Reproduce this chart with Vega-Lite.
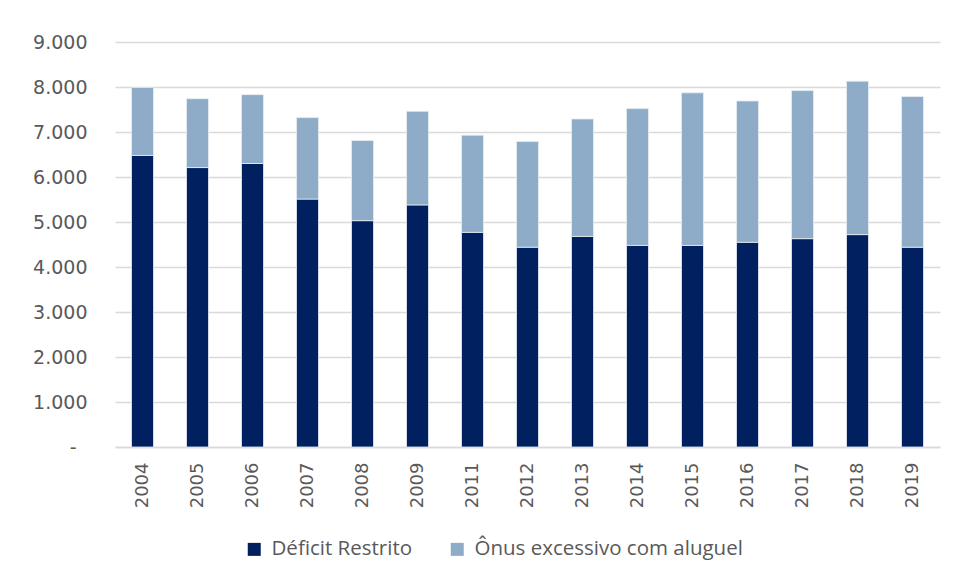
{
  "$schema": "https://vega.github.io/schema/vega-lite/v6.json",
  "width": 825,
  "height": 405,
  "autosize": {"type": "none"},
  "padding": {"left": 115, "top": 42, "right": 16, "bottom": 136},
  "background": "white",
  "data": {
    "values": [
      {"ano": "2004", "serie": "Déficit Restrito", "valor": 6480},
      {"ano": "2004", "serie": "Ônus excessivo com aluguel", "valor": 1510},
      {"ano": "2005", "serie": "Déficit Restrito", "valor": 6210},
      {"ano": "2005", "serie": "Ônus excessivo com aluguel", "valor": 1530},
      {"ano": "2006", "serie": "Déficit Restrito", "valor": 6300},
      {"ano": "2006", "serie": "Ônus excessivo com aluguel", "valor": 1530},
      {"ano": "2007", "serie": "Déficit Restrito", "valor": 5510},
      {"ano": "2007", "serie": "Ônus excessivo com aluguel", "valor": 1810},
      {"ano": "2008", "serie": "Déficit Restrito", "valor": 5030},
      {"ano": "2008", "serie": "Ônus excessivo com aluguel", "valor": 1780},
      {"ano": "2009", "serie": "Déficit Restrito", "valor": 5380},
      {"ano": "2009", "serie": "Ônus excessivo com aluguel", "valor": 2080},
      {"ano": "2011", "serie": "Déficit Restrito", "valor": 4770},
      {"ano": "2011", "serie": "Ônus excessivo com aluguel", "valor": 2160},
      {"ano": "2012", "serie": "Déficit Restrito", "valor": 4440},
      {"ano": "2012", "serie": "Ônus excessivo com aluguel", "valor": 2350},
      {"ano": "2013", "serie": "Déficit Restrito", "valor": 4680},
      {"ano": "2013", "serie": "Ônus excessivo com aluguel", "valor": 2610},
      {"ano": "2014", "serie": "Déficit Restrito", "valor": 4480},
      {"ano": "2014", "serie": "Ônus excessivo com aluguel", "valor": 3040},
      {"ano": "2015", "serie": "Déficit Restrito", "valor": 4480},
      {"ano": "2015", "serie": "Ônus excessivo com aluguel", "valor": 3390},
      {"ano": "2016", "serie": "Déficit Restrito", "valor": 4550},
      {"ano": "2016", "serie": "Ônus excessivo com aluguel", "valor": 3140},
      {"ano": "2017", "serie": "Déficit Restrito", "valor": 4630},
      {"ano": "2017", "serie": "Ônus excessivo com aluguel", "valor": 3290},
      {"ano": "2018", "serie": "Déficit Restrito", "valor": 4720},
      {"ano": "2018", "serie": "Ônus excessivo com aluguel", "valor": 3410},
      {"ano": "2019", "serie": "Déficit Restrito", "valor": 4440},
      {"ano": "2019", "serie": "Ônus excessivo com aluguel", "valor": 3350}
    ]
  },
  "mark": {"type": "bar", "stroke": "#e8edf3", "strokeWidth": 0.8},
  "encoding": {
    "x": {
      "field": "ano",
      "type": "ordinal",
      "scale": {"paddingInner": 0.6, "paddingOuter": 0.3},
      "axis": {
        "title": null,
        "labelAngle": -90,
        "labelAlign": "right",
        "labelBaseline": "middle",
        "labelPadding": 15,
        "labelFont": "DejaVu Sans",
        "labelFontSize": 18,
        "labelColor": "#595959",
        "ticks": false,
        "domainColor": "#d9d9d9",
        "domainWidth": 1.5,
        "grid": false
      }
    },
    "y": {
      "field": "valor",
      "type": "quantitative",
      "stack": "zero",
      "scale": {"domain": [0, 9000], "nice": false},
      "axis": {
        "title": null,
        "values": [0, 1000, 2000, 3000, 4000, 5000, 6000, 7000, 8000, 9000],
        "labelExpr": "datum.value == 0 ? '-' : replace(format(datum.value, ','), ',', '.')",
        "labelFont": "DejaVu Sans",
        "labelFontSize": 19,
        "labelColor": "#595959",
        "labelPadding": {"condition": {"test": "datum.value == 0", "value": 39}, "value": 28},
        "ticks": false,
        "domain": false,
        "grid": true,
        "gridColor": "#d9d9d9",
        "gridWidth": 1.5
      }
    },
    "order": {"field": "serie", "type": "nominal", "sort": "ascending"},
    "color": {
      "field": "serie",
      "type": "nominal",
      "scale": {
        "domain": ["Déficit Restrito", "Ônus excessivo com aluguel"],
        "range": ["#002060", "#8eacc7"]
      },
      "legend": {
        "title": null,
        "orient": "none",
        "direction": "horizontal",
        "legendX": 129,
        "legendY": 497,
        "symbolType": "square",
        "symbolSize": 169,
        "symbolStrokeWidth": 0,
        "labelFont": "Open Sans",
        "labelFontSize": 20.5,
        "labelColor": "#595959",
        "labelOffset": 7,
        "labelLimit": 500,
        "columnPadding": 34
      }
    }
  },
  "config": {
    "view": {"stroke": null}
  }
}
